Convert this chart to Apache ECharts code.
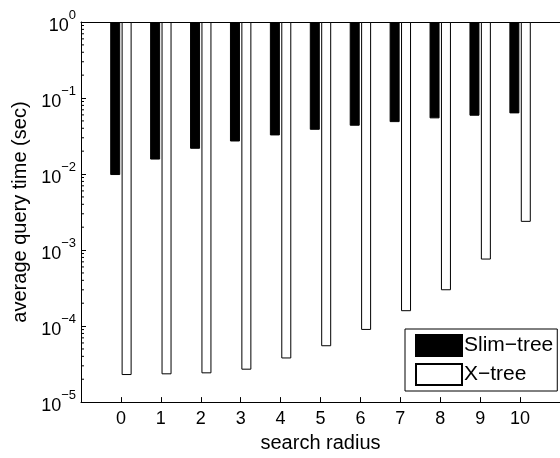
<!DOCTYPE html>
<html>
<head>
<meta charset="utf-8">
<script src="https://cdn.jsdelivr.net/npm/echarts@6/dist/echarts.min.js"></script>
<style>
html,body{margin:0;padding:0;background:#fff;}
#chart{width:560px;height:458px;}
</style>
</head>
<body>
<div id="chart"></div>
<script>
// ---- data ----
var categories = [0, 1, 2, 3, 4, 5, 6, 7, 8, 9, 10];
var slimTree = [0.0097, 0.0155, 0.0215, 0.0268, 0.0322, 0.0382, 0.0432, 0.0482, 0.054, 0.0585, 0.0628];
var xTree = [2.27e-5, 2.32e-5, 2.39e-5, 2.67e-5, 3.75e-5, 5.43e-5, 8.9e-5, 1.57e-4, 2.96e-4, 7.5e-4, 2.35e-3];
var seriesNames = ['Slim\u2212tree', 'X\u2212tree'];
var yExponents = [-5, -4, -3, -2, -1, 0];
var minorMantissas = [2, 3, 4, 5, 6, 7, 8, 9];
var xAxisTitle = 'search radius';
var yAxisTitle = 'average query time (sec)';

var FONT = '"Liberation Sans", Arial, Helvetica, sans-serif';
var xMin = -1, xMax = 11;

var minorTicks = [];
yExponents.forEach(function (e) {
  if (e < 0) minorMantissas.forEach(function (m) { minorTicks.push([xMin, m * Math.pow(10, e)]); });
});

function pairs(vals) { return categories.map(function (c, i) { return [c, vals[i]]; }); }

var chart = echarts.init(document.getElementById('chart'), null, {renderer: 'canvas'});
chart.setOption({
  animation: false,
  backgroundColor: '#fff',
  textStyle: {fontFamily: FONT},
  grid: {left: 81, top: 22, width: 486.6, height: 383},
  legend: {
    data: seriesNames,
    orient: 'vertical',
    left: 405, top: 329,
    itemWidth: 46, itemHeight: 21, itemGap: 6,
    padding: [5, 4, 5, 10],
    borderColor: '#000', borderWidth: 1,
    backgroundColor: '#fff',
    icon: 'rect',
    textStyle: {fontFamily: FONT, fontSize: 21, color: '#000', padding: [0, 0, 0, -3]}
  },
  xAxis: [{
    type: 'value', min: xMin, max: xMax, interval: 1,
    position: 'bottom',
    axisLine: {show: true, onZero: false, lineStyle: {color: '#000', width: 1}},
    axisTick: {show: true, inside: true, length: 5, lineStyle: {color: '#000'},
      customValues: categories},
    axisLabel: {fontFamily: FONT, fontSize: 18, color: '#000', margin: 8,
      customValues: categories},
    splitLine: {show: false},
    name: xAxisTitle, nameLocation: 'middle', nameGap: 28,
    nameTextStyle: {fontFamily: FONT, fontSize: 20, color: '#000'}
  }, {
    type: 'value', min: xMin, max: xMax, position: 'top',
    axisLine: {show: true, onZero: false, lineStyle: {color: '#000', width: 1}},
    axisTick: {show: false}, axisLabel: {show: false}, splitLine: {show: false}
  }],
  yAxis: {
    type: 'log', logBase: 10, min: 1e-5, max: 1, interval: 1,
    axisLine: {show: true, onZero: false, lineStyle: {color: '#000', width: 1}},
    axisTick: {show: true, inside: true, length: 5, lineStyle: {color: '#000'}},
    splitLine: {show: false},
    axisLabel: {
      margin: 5,
      formatter: function (v) {
        var e = Math.round(Math.log10(v));
        var s = e < 0 ? '\u2212' + (-e) : String(e);
        return '{b|10}{e|' + s + '}';
      },
      rich: {
        b: {fontFamily: FONT, fontSize: 18, color: '#000', lineHeight: 26, verticalAlign: 'bottom'},
        e: {fontFamily: FONT, fontSize: 13, color: '#000', lineHeight: 14, verticalAlign: 'top'}
      }
    },
    name: yAxisTitle, nameLocation: 'middle', nameGap: 50,
    nameTextStyle: {fontFamily: FONT, fontSize: 20, color: '#000'}
  },
  series: [{
    name: seriesNames[0], type: 'bar', data: pairs(slimTree),
    barWidth: 10, barGap: '14%',
    itemStyle: {color: '#000', borderColor: '#000', borderWidth: 1}
  }, {
    name: seriesNames[1], type: 'bar', data: pairs(xTree),
    barWidth: 10, barGap: '14%',
    itemStyle: {color: '#fff', borderColor: '#000', borderWidth: 1}
  }, {
    type: 'scatter', silent: true, z: 5, clip: false,
    data: minorTicks,
    symbol: 'rect', symbolSize: [3, 1], symbolOffset: [1.5, 0],
    itemStyle: {color: '#000', opacity: 1},
    emphasis: {disabled: true}
  }]
});
</script>
</body>
</html>
